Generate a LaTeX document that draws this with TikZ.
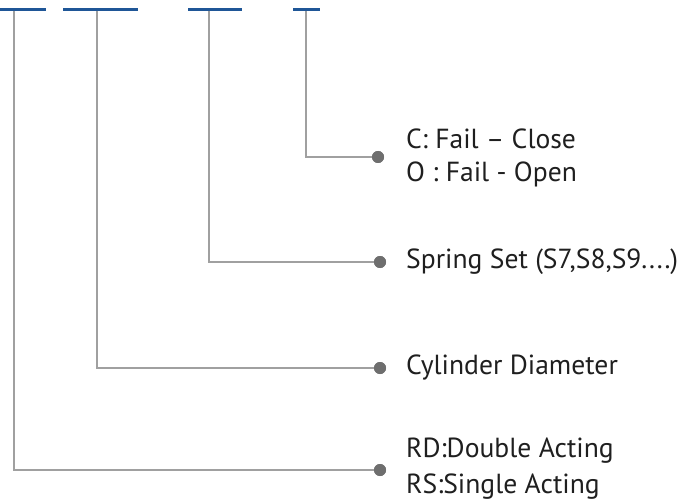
\documentclass[tikz,border=0pt]{standalone}
\usepackage{fontspec}
\setmainfont{PT Sans}
\definecolor{barblue}{HTML}{1F5697}
\definecolor{linegray}{HTML}{A0A0A0}
\definecolor{dotgray}{HTML}{6E6E6E}
\tikzset{
  bar/.style={draw=barblue, line width=2.6pt},
  leader/.style={draw=linegray, line width=1.1pt},
  dot/.style={circle, fill=dotgray, inner sep=0pt, minimum size=12pt},
  lbl/.style={anchor=west, inner sep=0pt, font=\fontsize{27.6}{32}\selectfont, text=black!88},
}
\begin{document}
\begin{tikzpicture}[x=1pt,y=-1pt]
\useasboundingbox (0,0) rectangle (683,500);
% bars
\draw[bar] (0,9.3) -- (46,9.3);
\draw[bar] (63,9.3) -- (138,9.3);
\draw[bar] (188,9.3) -- (242,9.3);
\draw[bar] (293,9.3) -- (320,9.3);
\coordinate (t1) at (14,11);
\coordinate (t2) at (97,11);
\coordinate (t3) at (209,11);
\coordinate (t4) at (306,11);
% dots
\node[dot] (d4) at (378,157) {};
\node[dot] (d3) at (380,262) {};
\node[dot] (d2) at (380,368) {};
\node[dot] (d1) at (380,470) {};
% leaders
\draw[leader] (t4) |- (d4.center);
\draw[leader] (t3) |- (d3.center);
\draw[leader] (t2) |- (d2.center);
\draw[leader] (t1) |- (d1.center);
\node[dot] at (d4) {};
\node[dot] at (d3) {};
\node[dot] at (d2) {};
\node[dot] at (d1) {};
% labels
\node[lbl] (l4a) at (406,139) {C: Fail – Close};
\node[lbl] (l4b) at (406,174) {O : Fail - Open};
\node[lbl] (l3) at (406,262) {Spring Set (S7,S8,S9....)};
\node[lbl] (l2) at (406,368) {Cylinder Diameter};
\node[lbl] (l1a) at (406,451) {RD:Double Acting};
\node[lbl] (l1b) at (406,487) {RS:Single Acting};
\end{tikzpicture}
\end{document}
